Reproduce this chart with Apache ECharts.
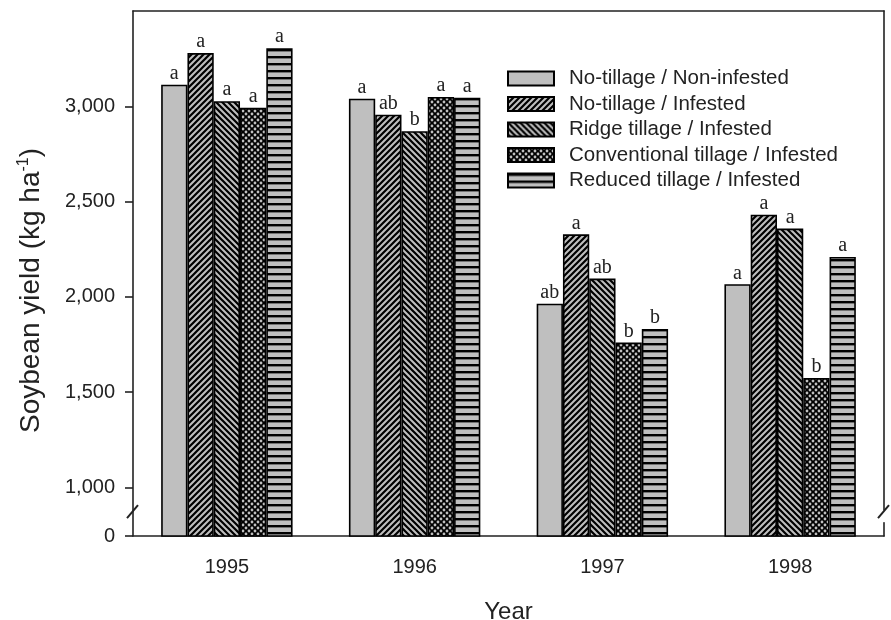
<!DOCTYPE html>
<html>
<head>
<meta charset="utf-8">
<script src="https://cdn.jsdelivr.net/npm/echarts@6.0.0/dist/echarts.min.js"></script>
<style>
  html, body { margin: 0; padding: 0; background: #fff; }
  #chart { width: 891px; height: 620px; }
</style>
</head>
<body>
<div id="chart"></div>
<script>
// ---------- data ----------
const years = ['1995', '1996', '1997', '1998'];
const seriesNames = [
  'No-tillage / Non-infested',
  'No-tillage / Infested',
  'Ridge tillage / Infested',
  'Conventional tillage / Infested',
  'Reduced tillage / Infested'
];
const noTillNonInfested = [3113, 3040, 1964, 2066];
const noTillInfested    = [3279, 2956, 2328, 2431];
const ridgeInfested     = [3027, 2869, 2096, 2358];
const convInfested      = [2992, 3049, 1760, 1574];
const reducedInfested   = [3305, 3045, 1831, 2209];

const noTillNonInfestedLetters = ['a', 'a', 'ab', 'a'];
const noTillInfestedLetters    = ['a', 'ab', 'a', 'a'];
const ridgeInfestedLetters     = ['a', 'b', 'ab', 'a'];
const convInfestedLetters      = ['a', 'a', 'b', 'b'];
const reducedInfestedLetters   = ['a', 'a', 'b', 'a'];

const yTickValues = [1000, 1500, 2000, 2500, 3000];
const yAxisBottom = 745;   // shown as "0" (broken axis)
const yAxisTop = 3500;

// ---------- patterns ----------
const GRAY = '#bfbfbf';
function makeCanvas(w, h, draw) {
  const c = document.createElement('canvas');
  c.width = w; c.height = h;
  const ctx = c.getContext('2d');
  draw(ctx, w, h);
  return c;
}
const patForward = makeCanvas(6, 6, (ctx, w, h) => {
  ctx.fillStyle = GRAY; ctx.fillRect(0, 0, w, h);
  ctx.strokeStyle = '#000'; ctx.lineWidth = 2.2;
  ctx.beginPath();
  ctx.moveTo(0, h); ctx.lineTo(w, 0);
  ctx.moveTo(-2, 2); ctx.lineTo(2, -2);
  ctx.moveTo(w - 2, h + 2); ctx.lineTo(w + 2, h - 2);
  ctx.stroke();
});
const patBack = makeCanvas(6, 6, (ctx, w, h) => {
  ctx.fillStyle = GRAY; ctx.fillRect(0, 0, w, h);
  ctx.strokeStyle = '#000'; ctx.lineWidth = 2.2;
  ctx.beginPath();
  ctx.moveTo(0, 0); ctx.lineTo(w, h);
  ctx.moveTo(-2, h - 2); ctx.lineTo(2, h + 2);
  ctx.moveTo(w - 2, -2); ctx.lineTo(w + 2, 2);
  ctx.stroke();
});
const patDots = makeCanvas(6, 6, (ctx, w, h) => {
  ctx.fillStyle = '#000'; ctx.fillRect(0, 0, w, h);
  ctx.fillStyle = GRAY;
  const pts = [[0, 0], [w, 0], [0, h], [w, h], [w / 2, h / 2]];
  pts.forEach(p => { ctx.beginPath(); ctx.arc(p[0], p[1], 1.4, 0, Math.PI * 2); ctx.fill(); });
});
const patHoriz = makeCanvas(4, 7, (ctx, w, h) => {
  ctx.fillStyle = GRAY; ctx.fillRect(0, 0, w, h);
  ctx.fillStyle = '#000'; ctx.fillRect(0, 0, w, 2.4);
});

const fills = [
  GRAY,
  { image: patForward, repeat: 'repeat' },
  { image: patBack, repeat: 'repeat' },
  { image: patDots, repeat: 'repeat' },
  { image: patHoriz, repeat: 'repeat' }
];
const values = [noTillNonInfested, noTillInfested, ridgeInfested, convInfested, reducedInfested];
const letters = [noTillNonInfestedLetters, noTillInfestedLetters, ridgeInfestedLetters, convInfestedLetters, reducedInfestedLetters];

const chart = echarts.init(document.getElementById('chart'), null, { renderer: 'canvas' });

const GRID = { left: 133, right: 7, top: 11, bottom: 84 };

const series = seriesNames.map((name, i) => ({
  name: name,
  type: 'bar',
  data: values[i],
  barGap: '0%',
  barCategoryGap: '30%',
  itemStyle: { color: fills[i], borderColor: '#000', borderWidth: 1.6 },
  label: {
    show: true,
    position: 'top',
    distance: 1,
    formatter: p => letters[i][p.dataIndex],
    fontFamily: 'Liberation Serif',
    fontSize: 20,
    color: '#222'
  },
  emphasis: { disabled: true }
}));

const option = {
  animation: false,
  backgroundColor: '#fff',
  grid: {
    left: GRID.left, right: GRID.right, top: GRID.top, bottom: GRID.bottom,
    containLabel: false, outerBoundsMode: 'none'
  },
  legend: {
    orient: 'vertical',
    left: 507,
    top: 68,
    padding: 0,
    itemWidth: 46,
    itemHeight: 14,
    itemGap: 4.5,
    icon: 'rect',
    selectedMode: false,
    textStyle: { fontFamily: 'Liberation Sans', fontSize: 20.5, color: '#222', padding: [0, 0, 0, 10] },
    data: seriesNames
  },
  xAxis: [{
    type: 'category',
    data: years,
    position: 'bottom',
    name: 'Year',
    nameLocation: 'middle',
    nameGap: 64,
    nameTextStyle: { fontFamily: 'Liberation Sans', fontSize: 24, color: '#222' },
    axisLine: { lineStyle: { color: '#222', width: 1.6 } },
    axisTick: { alignWithLabel: true, inside: false, length: 8, lineStyle: { color: '#222', width: 1.6 } },
    axisLabel: { margin: 21, fontFamily: 'Liberation Sans', fontSize: 20, color: '#222' },
    splitLine: { show: false }
  }, {
    type: 'category',
    data: years,
    position: 'top',
    axisLine: { lineStyle: { color: '#222', width: 1.6 } },
    axisTick: { show: false },
    axisLabel: { show: false }
  }],
  yAxis: [{
    type: 'value',
    min: yAxisBottom,
    max: yAxisTop,
    position: 'left',
    name: '{t|Soybean yield (kg ha}{s|-1}{t|)}',
    nameLocation: 'middle',
    nameGap: 86,
    nameRotate: 90,
    nameTextStyle: {
      padding: [0, 34, 0, 0],
      rich: {
        t: { fontFamily: 'Liberation Sans', fontSize: 28, color: '#222' },
        s: { fontFamily: 'Liberation Sans', fontSize: 16, color: '#222', verticalAlign: 'top', padding: [0, 0, 15, 0] }
      }
    },
    axisLine: { show: true, lineStyle: { color: '#222', width: 1.6 } },
    axisTick: { show: true, length: 8, customValues: [yAxisBottom].concat(yTickValues), lineStyle: { color: '#222', width: 1.6 } },
    axisLabel: {
      margin: 18,
      fontFamily: 'Liberation Sans', fontSize: 20, color: '#222',
      customValues: [yAxisBottom].concat(yTickValues),
      formatter: v => (v === yAxisBottom ? '0' : v.toLocaleString('en-US'))
    },
    splitLine: { show: false }
  }, {
    type: 'value',
    min: yAxisBottom,
    max: yAxisTop,
    position: 'right',
    axisLine: { show: true, lineStyle: { color: '#222', width: 1.6 } },
    axisTick: { show: false },
    axisLabel: { show: false },
    splitLine: { show: false }
  }],
  series: series
};
chart.setOption(option);

// axis-break marks on the left and right spines
const yBreak = chart.convertToPixel({ yAxisIndex: 0 }, 870);
const xL = GRID.left, xR = 891 - GRID.right;
chart.setOption({
  graphic: [
    { type: 'rect', shape: { x: xR - 3, y: yBreak - 2, width: 6, height: 12 }, style: { fill: '#fff' }, z: 100 },
    { type: 'line', shape: { x1: xL - 6, y1: yBreak + 6, x2: xL + 5, y2: yBreak - 7 }, style: { stroke: '#222', lineWidth: 2 }, z: 101 },
    { type: 'line', shape: { x1: xR - 6, y1: yBreak + 6, x2: xR + 5, y2: yBreak - 7 }, style: { stroke: '#222', lineWidth: 2 }, z: 101 }
  ]
});
</script>
</body>
</html>
